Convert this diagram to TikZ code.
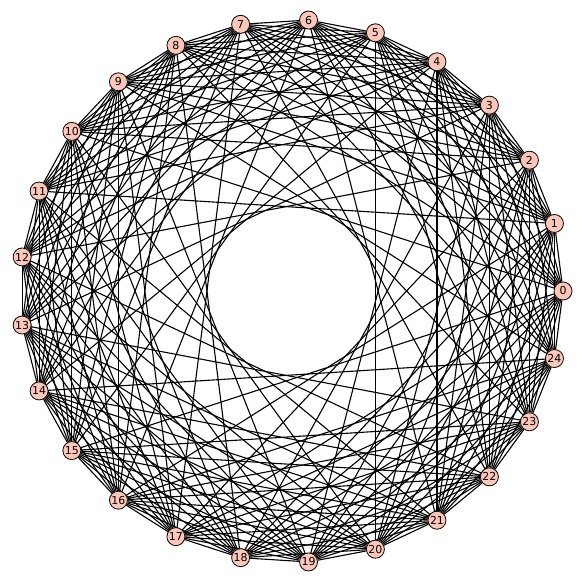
\documentclass[tikz,border=0pt]{standalone}
\usepackage{fontspec}
\setmainfont{DejaVu Sans}
\usetikzlibrary{backgrounds}
\definecolor{vfill}{HTML}{FEC7B8}
\begin{document}
\begin{tikzpicture}[x=1bp,y=1bp,
  vtx/.style={circle,draw=black,fill=vfill,line width=0.8bp,minimum size=18bp,inner sep=0pt,font=\fontsize{11}{11}\selectfont},
  edge/.style={line width=1.1bp,draw=black}]
\useasboundingbox (0,0) rectangle (582,584);
\foreach \i in {0,...,24}
  \node[vtx] (v\i) at ({291.5+271.5*cos(14.4*\i)},{293+271.5*sin(14.4*\i)}) {\i};
\begin{scope}[on background layer]
\foreach \i in {0,...,24}{
  \foreach \k in {1,2,3,4,5,6,7,8,10}{
    \pgfmathtruncatemacro\j{mod(\i+\k,25)}
    \draw[edge] (v\i) -- (v\j);
  }
}
\end{scope}
\end{tikzpicture}
\end{document}
